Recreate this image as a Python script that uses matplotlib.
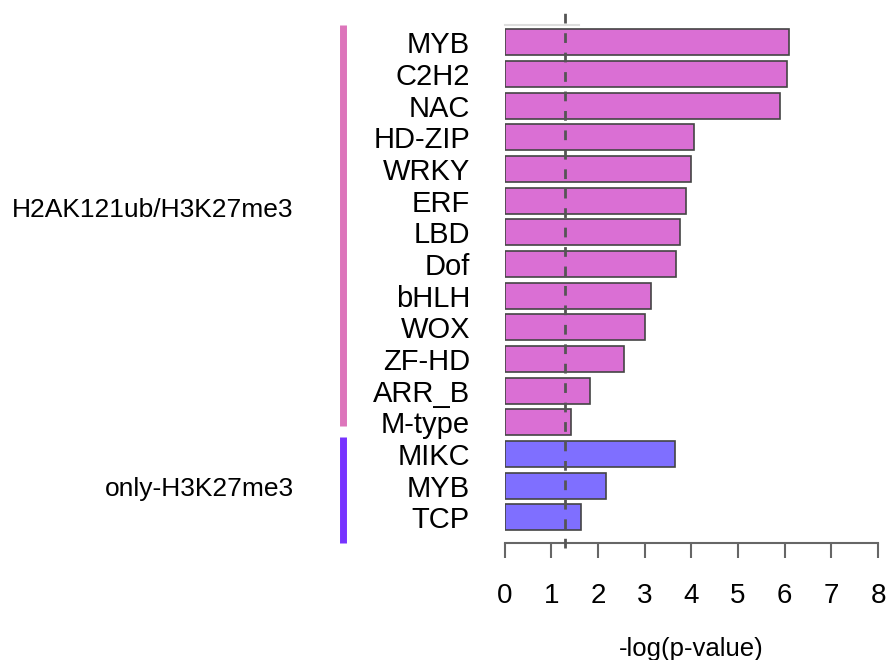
import matplotlib
matplotlib.use("Agg")
import matplotlib.pyplot as plt
import matplotlib.transforms as mtransforms

## Data
families = ["MYB", "C2H2", "NAC", "HD-ZIP", "WRKY", "ERF", "LBD", "Dof",
            "bHLH", "WOX", "ZF-HD", "ARR_B", "M-type",
            "MIKC", "MYB", "TCP"]
neglogp = [6.1, 6.05, 5.9, 4.05, 4.0, 3.88, 3.75, 3.67,
           3.13, 3.0, 2.55, 1.82, 1.42,
           3.65, 2.17, 1.63]
groups = ["H2AK121ub/H3K27me3"] * 13 + ["only-H3K27me3"] * 3
group_names = ["H2AK121ub/H3K27me3", "only-H3K27me3"]
cutoff = 1.3  # -log10(0.05)

bar_col = {"H2AK121ub/H3K27me3": "#DA6FD4", "only-H3K27me3": "#7F6FFF"}
side_col = {"H2AK121ub/H3K27me3": "#DD75BB", "only-H3K27me3": "#7733FF"}

plt.rcParams['font.family'] = ['Liberation Sans', 'DejaVu Sans']

fig = plt.figure(figsize=(8.87, 6.6), dpi=100)
ax = fig.add_axes([0.569, 0.177, 0.421, 0.785])

ypos = list(range(len(families)))
ax.barh(ypos, neglogp, height=0.82, color=[bar_col[g] for g in groups],
        edgecolor="#444444", linewidth=1.2, zorder=2)

ax.set_ylim(15.82, -0.54)
ax.set_xlim(0, 8)

# significance cutoff, sticks out a bit above and below
ax.axvline(cutoff, ymin=-0.01, ymax=1.03, color="#555555", lw=2,
           ls=(0, (3.5, 3.5)), clip_on=False, zorder=3)
# faint line at the top
ax.plot([0, 1.6], [-0.54, -0.54], color="#dddddd", lw=1.5, clip_on=False)

for s in ["top", "right", "left"]:
    ax.spines[s].set_visible(False)
ax.spines["bottom"].set_color("#666666")
ax.spines["bottom"].set_linewidth(1.5)
ax.set_xticks(range(9))
ax.tick_params(axis="x", length=11, width=1.5, color="#666666",
               labelsize=20, pad=18)
ax.set_yticks(ypos)
ax.set_yticklabels(families, fontsize=21)
ax.tick_params(axis="y", length=0, pad=25)
ax.set_xlabel("-log(p-value)", fontsize=18.5)
ax.xaxis.set_label_coords(0.5, -0.204)  # centre of label near y=648px
ax.xaxis.label.set_va("center")

# group side bars and labels
trans = mtransforms.blended_transform_factory(fig.transFigure, ax.transData)
starts = {"H2AK121ub/H3K27me3": (-0.54, 12.13), "only-H3K27me3": (12.47, 15.82)}
label_y = {"H2AK121ub/H3K27me3": 5.3, "only-H3K27me3": 14.1}
for g in group_names:
    y0, y1 = starts[g]
    ax.plot([0.387, 0.387], [y0, y1], transform=trans, color=side_col[g],
            lw=5, solid_capstyle="butt", clip_on=False)
    ax.text(0.331, label_y[g], g, transform=trans, ha="right", va="center",
            fontsize=19)

fig.savefig("out.png", dpi=100)
